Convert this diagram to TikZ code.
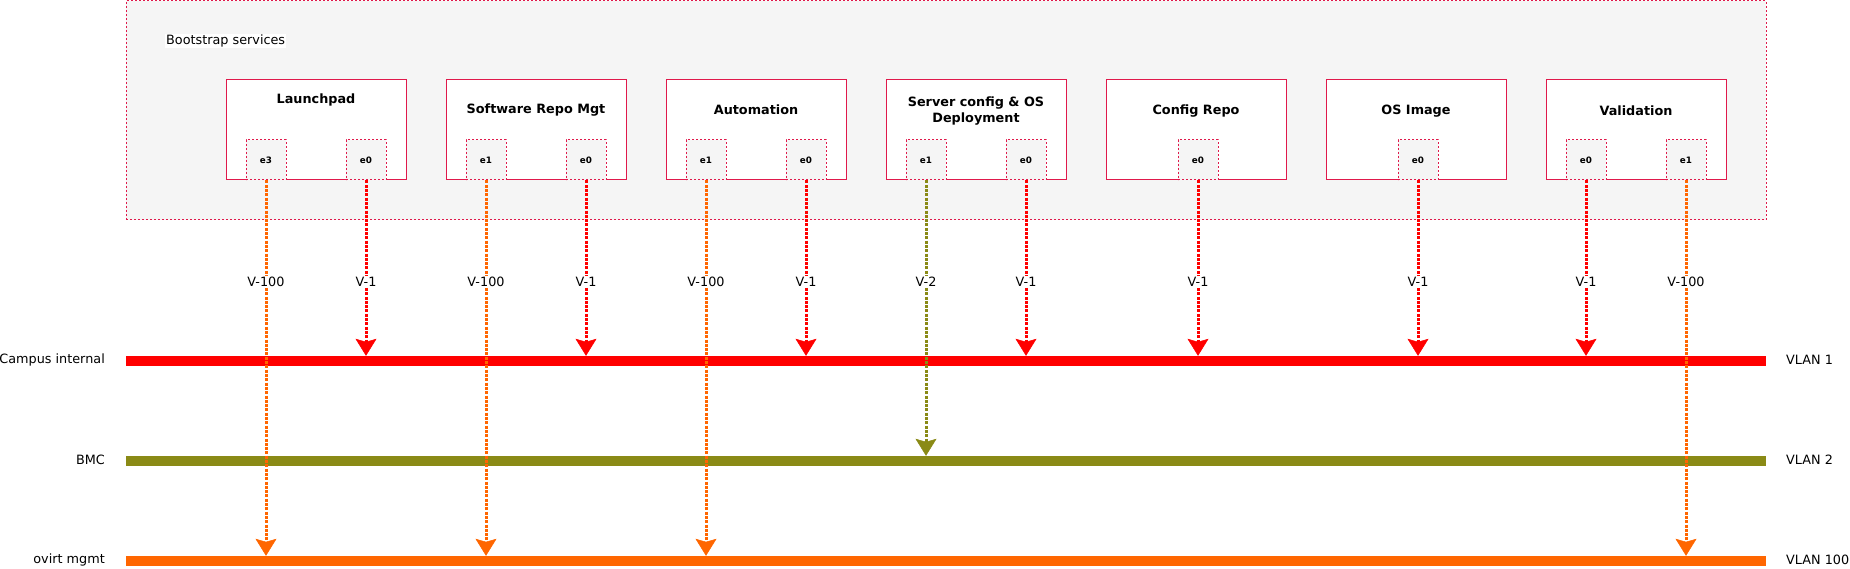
\documentclass[tikz,border=0pt]{standalone}
\usepackage{fontspec}
\setmainfont{DejaVu Sans}
\usetikzlibrary{arrows.meta}
\definecolor{rimred}{HTML}{E0194B}
\definecolor{boxgray}{HTML}{F5F5F5}
\definecolor{vlanred}{HTML}{FF0000}
\definecolor{vlanolive}{HTML}{8A8A16}
\definecolor{vlanorange}{HTML}{FF6600}
\tikzset{
  service/.style={draw=rimred, fill=white, line width=1pt, minimum width=180pt, minimum height=100pt, inner sep=0pt},
  iface/.style={draw=rimred, fill=boxgray, line width=1pt, dash pattern=on 2pt off 2pt, minimum size=40pt, inner sep=0pt, font=\fontsize{8.8}{11}\selectfont\bfseries},
  title/.style={font=\fontsize{12.8}{16}\selectfont\bfseries, align=center, inner sep=0pt},
  bus/.style={minimum width=1640pt, minimum height=10pt, inner sep=0pt},
  link/.style={line width=3pt, dash pattern=on 3pt off 1.3pt, -{Stealth[length=17pt,width=21pt,inset=3pt,line width=0.5pt]}},
  vtag/.style={fill=white, inner sep=1pt, at start, yshift=-101pt},
}
\begin{document}
\begin{tikzpicture}[x=1pt, y=-1pt, font=\fontsize{12.8}{15}\selectfont]
    \useasboundingbox (0,0) rectangle (1850,569);
    % services area
    \node[draw=rimred, fill=boxgray, line width=1pt, dash pattern=on 2pt off 2pt, minimum width=1640pt, minimum height=219pt, inner sep=0pt] (bootstrap) at (946,110.5) {};
    \node[fill=white, inner sep=1pt, anchor=west] (bootstrap-label) at (165,41) {Bootstrap services};

    \node[service] (lp) at (316,130) {};
    \node[service] (srm) at (536,130) {};
    \node[service] (auto) at (756,130) {};
    \node[service] (srv) at (976,130) {};
    \node[service] (cfg) at (1196,130) {};
    \node[service] (os) at (1416,130) {};
    \node[service] (val) at (1636,130) {};

    \node[title] (lp-title) at (316,100) {Launchpad};
    \node[title] (srm-title) at (536,110) {Software Repo Mgt};
    \node[title] (auto-title) at (756,110) {Automation};
    \node[title] (srv-title) at (976,110.7) {Server config \& OS\\Deployment};
    \node[title] (cfg-title) at (1196,110.7) {Config Repo};
    \node[title] (os-title) at (1416,110.7) {OS Image};
    \node[title] (val-title) at (1636,110.7) {Validation};

    % interfaces
    \node[iface] (lp-e3) at (266,160) {e3};
    \node[iface] (lp-e0) at (366,160) {e0};
    \node[iface] (srm-e1) at (486,160) {e1};
    \node[iface] (srm-e0) at (586,160) {e0};
    \node[iface] (auto-e1) at (706,160) {e1};
    \node[iface] (auto-e0) at (806,160) {e0};
    \node[iface] (srv-e1) at (926,160) {e1};
    \node[iface] (srv-e0) at (1026,160) {e0};
    \node[iface] (cfg-e0) at (1198,160) {e0};
    \node[iface] (os-e0) at (1418,160) {e0};
    \node[iface] (val-e0) at (1586,160) {e0};
    \node[iface] (val-e1) at (1686,160) {e1};

    % networks
    \node[bus, fill=vlanred] (campus) at (946,361) {};
    \node[bus, fill=vlanolive] (bmc) at (946,461) {};
    \node[bus, fill=vlanorange] (ovirt) at (946,561) {};
    \node[anchor=east, inner sep=0pt] (campus-name) at (105,360) {Campus internal};
    \node[anchor=east, inner sep=0pt] (bmc-name) at (105,460) {BMC};
    \node[anchor=east, inner sep=0pt] (ovirt-name) at (105,560) {ovirt mgmt};
    \node[anchor=west, inner sep=0pt] (campus-vlan) at (1786,360) {VLAN 1};
    \node[anchor=west, inner sep=0pt] (bmc-vlan) at (1786,460) {VLAN 2};
    \node[anchor=west, inner sep=0pt] (ovirt-vlan) at (1786,560) {VLAN 100};

    % links
    \draw[link, vlanred] (lp-e0.south) -- (lp-e0.south |- campus.north) node[vtag, text=black] {V-1};
    \draw[link, vlanred] (srm-e0.south) -- (srm-e0.south |- campus.north) node[vtag, text=black] {V-1};
    \draw[link, vlanred] (auto-e0.south) -- (auto-e0.south |- campus.north) node[vtag, text=black] {V-1};
    \draw[link, vlanred] (srv-e0.south) -- (srv-e0.south |- campus.north) node[vtag, text=black] {V-1};
    \draw[link, vlanred] (cfg-e0.south) -- (cfg-e0.south |- campus.north) node[vtag, text=black] {V-1};
    \draw[link, vlanred] (os-e0.south) -- (os-e0.south |- campus.north) node[vtag, text=black] {V-1};
    \draw[link, vlanred] (val-e0.south) -- (val-e0.south |- campus.north) node[vtag, text=black] {V-1};
    \draw[link, vlanolive] (srv-e1.south) -- (srv-e1.south |- bmc.north) node[vtag, text=black] {V-2};
    \draw[link, vlanorange] (lp-e3.south) -- (lp-e3.south |- ovirt.north) node[vtag, text=black] {V-100};
    \draw[link, vlanorange] (srm-e1.south) -- (srm-e1.south |- ovirt.north) node[vtag, text=black] {V-100};
    \draw[link, vlanorange] (auto-e1.south) -- (auto-e1.south |- ovirt.north) node[vtag, text=black] {V-100};
    \draw[link, vlanorange] (val-e1.south) -- (val-e1.south |- ovirt.north) node[vtag, text=black] {V-100};
\end{tikzpicture}
\end{document}
